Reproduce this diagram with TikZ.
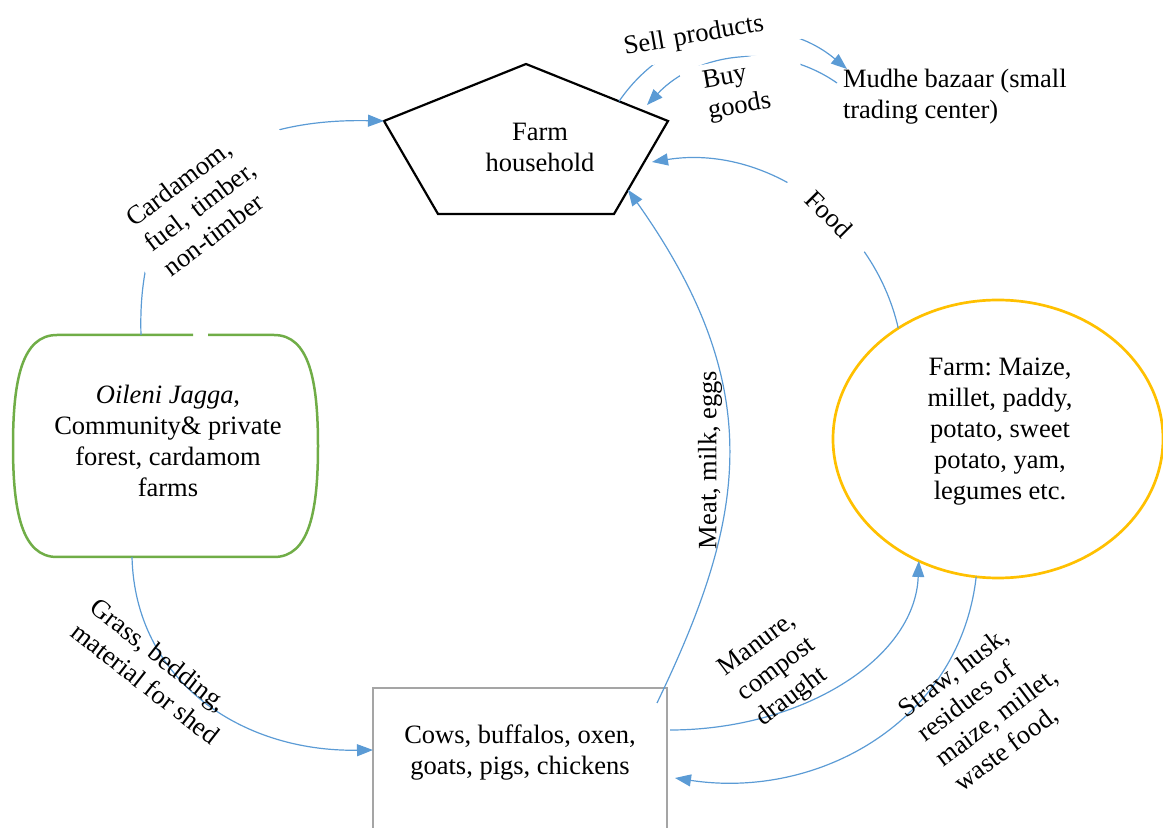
\documentclass[tikz,border=0pt]{standalone}
\usepackage{fontspec}
\setmainfont{Liberation Serif}
\usetikzlibrary{arrows.meta,calc,shapes.geometric}
\definecolor{flowblue}{HTML}{5B9BD5}
\definecolor{forestgreen}{HTML}{70AD47}
\definecolor{cropgold}{HTML}{FFC000}
\definecolor{stockgray}{HTML}{A5A5A5}
\frenchspacing
\begin{document}
\begin{tikzpicture}[x=0.5pt,y=-0.5pt,
  every node/.style={font=\fontsize{13.25pt}{15.5pt}\selectfont, inner sep=0pt, outer sep=0pt},
  flow/.style={draw=flowblue, line width=0.6pt, -{Triangle[length=8pt,width=6pt]}},
  flowlabel/.style={align=left},
  gaplabel/.style={align=left, fill=white},
]
\useasboundingbox (0,0) rectangle (1163,828);
\clip (0,0) rectangle (1163,828);

% farm household (pentagon)
\coordinate (hhT) at (526,64);
\coordinate (hhR) at (668,121);
\coordinate (hhBR) at (614,214);
\coordinate (hhBL) at (438,214);
\coordinate (hhL) at (384,121);
\draw[line width=1.1pt, line join=miter] (hhT) -- (hhR) -- (hhBR) -- (hhBL) -- (hhL) -- cycle;
\node[align=center] (hh) at (540,147) {Farm\\household};

% forest and cardamom farms
\draw[forestgreen, line width=1.25pt]
  (193,335) -- (57,335) .. controls (22,335) and (13,380) .. (13,446)
  .. controls (13,512) and (22,557) .. (57,557) -- (274,557)
  .. controls (309,557) and (318,512) .. (318,446)
  .. controls (318,380) and (309,335) .. (274,335) -- (208,335);
\node[align=center] (forest) at (168,441) {\textit{Oileni Jagga},\\Community\& private\\forest, cardamom\\farms};
\coordinate (forestTop) at (141,335);
\coordinate (forestBot) at (132,557);

% crop farm
\node[ellipse, draw=cropgold, line width=1.35pt, minimum width=165pt, minimum height=139pt] (farm) at (998,439) {};
\node[align=center] (farmtext) at (1000,432) {Farm: Maize,\\millet, paddy,\\potato, sweet\\potato, yam,\\legumes etc.};

% livestock
\node[minimum width=147pt, minimum height=70pt] (stock) at (520,758) {};
\draw[stockgray, line width=1.25pt] (stock.south west) -- (stock.north west) -- (stock.north east) -- (stock.south east);
\node[align=center] (stocktext) at (520,753) {Cows, buffalos, oxen,\\goats, pigs, chickens};

% market
\node[anchor=west, align=left] (bazaar) at (843,97) {Mudhe bazaar (small\\trading center)};

% forest -> household
\draw[flow] (forestTop) .. controls (136,180) and (230,118) .. (hhL);
\node[gaplabel, text width=78.5pt, inner xsep=9pt, inner ysep=3pt, rotate=37] (cardtag) at (210,198) {Cardamom,\\fuel, timber,\\non-timber};

% household <-> market
\draw[flow] ($(hhT)!0.655!(hhR)$) .. controls (672,24) and (775,9) .. ([shift={(4,-28)}]bazaar.west);
\node[gaplabel, text width=90pt, inner xsep=2pt, inner ysep=4.5pt, rotate=10] (selltag) at (713,33) {Sell products};
\draw[flow] ([shift={(-6,-14)}]bazaar.west) .. controls (777,41) and (697,52) .. ([shift={(-21,-16)}]hhR);
\node[gaplabel, text width=38.7pt, inner xsep=10.75pt, inner ysep=3pt, rotate=10] (buytag) at (744,91) {Buy\\goods};

% farm -> household
\draw[flow] (farm.132.5) .. controls (873,218) and (765,144) .. ([shift={(-16,41)}]hhR);
\node[fill=white, minimum width=51.5pt, inner ysep=3pt, rotate=-45] (foodtag) at (829,214) {Food};

% livestock -> household
\draw[flow] ([shift={(-10,15)}]stock.north east) .. controls (745,520) and (770,390) .. ($(hhR)!0.74!(hhBR)$);
\node[rotate=90] (meattag) at (710,460) {Meat, milk, eggs};

% forest -> livestock
\draw[flow] (forestBot) .. controls (135,680) and (240,752) .. ([shift={(0,62)}]stock.north west);
\node[flowlabel, rotate=-38] (grasstag) at (155,671) {Grass, bedding,\\material for shed};

% livestock <-> farm
\draw[flow] ([shift={(3,42)}]stock.north east) .. controls (800,730) and (915,660) .. (farm.237.3);
\node[flowlabel, rotate=37] (manuretag) at (777,670) {Manure,\\compost\\draught};
\draw[flow] (farm.261.8) .. controls (960,720) and (820,800) .. ([shift={(8,90)}]stock.north east);
\node[flowlabel, rotate=37] (strawtag) at (988,706) {Straw, husk,\\residues of\\maize, millet,\\waste food,};
\end{tikzpicture}
\end{document}
